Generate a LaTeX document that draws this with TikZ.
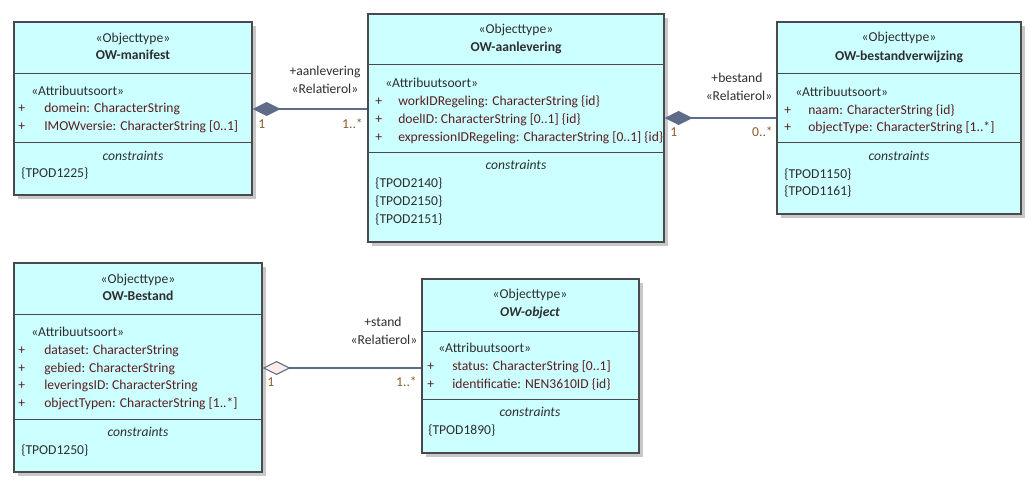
\documentclass[tikz,border=0pt]{standalone}
\usepackage{fontspec}
\setmainfont{Carlito}
\usepackage{tikz}
\usetikzlibrary{positioning, fit, arrows.meta}
\definecolor{UmlFill}{HTML}{CCFFFF}
\definecolor{UmlBorder}{HTML}{4A4A4A}
\definecolor{UmlShadow}{HTML}{C8C8C8}
\definecolor{UmlText}{HTML}{2E2E2E}
\definecolor{AttrText}{HTML}{5A1E1E}
\definecolor{AssocLine}{HTML}{5E6C8A}
\definecolor{MultText}{HTML}{8A5A2E}
\definecolor{OpenDiamond}{HTML}{FBEEEA}

% klasse: name, x1, y1, x2, y2, first separator, second separator
\newcommand{\umlklasse}[7]{%
  \fill[UmlShadow] (#2+4,#3+4) rectangle (#4+4,#5+4);
  \node[klasse, fit={(#2,#3) (#4,#5)}] (#1) {};
  \draw[UmlBorder] (#2,#6) -- (#4,#6);
  \draw[UmlBorder] (#2,#7) -- (#4,#7);
}

\begin{document}
\begin{tikzpicture}[x=0.75pt, y=-0.75pt, font=\fontsize{10.2}{12}\selectfont,
  klasse/.style={draw=UmlBorder, fill=UmlFill, inner sep=0pt, line width=0.8pt},
  txt/.style={inner sep=0pt, text height=7pt, text depth=2pt, text=UmlText},
  kop/.style={txt, font=\fontsize{10.2}{12}\selectfont\bfseries},
  attr/.style={txt, anchor=west, text=AttrText},
  tpod/.style={txt, anchor=west},
  cons/.style={txt, font=\fontsize{10.2}{12}\selectfont\itshape},
  rol/.style={txt},
  mult/.style={txt, text=MultText},
  assoc/.style={draw=AssocLine, line width=0.8pt},
  compo/.style={assoc, {Diamond[length=21pt, width=10.5pt, fill=AssocLine]}-},
  aggr/.style={assoc, {Diamond[open, length=21pt, width=10.5pt, fill=OpenDiamond]}-}]
  \useasboundingbox (0,0) rectangle (1035,489);

  % OW-manifest
  \umlklasse{man}{14}{22}{252}{195}{73}{142}
  \node[txt] (man-st) at (133,39) {«Objecttype»};
  \node[kop] (man-nm) at (133,56) {OW-manifest};
  \node[tpod] (man-as) at (31,92) {«Attribuutsoort»};
  \foreach \y/\t [count=\i] in {109/domein: CharacterString, 127/IMOWversie: CharacterString [0..1]}{
    \node[attr] (man-p\i) at (18,\y) {+};
    \node[attr] (man-a\i) at (44,\y) {\t};}
  \node[cons] (man-cs) at (133,157) {constraints};
  \node[tpod] (man-c1) at (21,174) {\{TPOD1225\}};

  % OW-aanlevering
  \umlklasse{aan}{368}{14}{664}{242}{64}{152}
  \node[txt] (aan-st) at (516,30) {«Objecttype»};
  \node[kop] (aan-nm) at (516,48) {OW-aanlevering};
  \node[tpod] (aan-as) at (385,84) {«Attribuutsoort»};
  \foreach \y/\t [count=\i] in {102/workIDRegeling: CharacterString \{id\},
      120/doelID: CharacterString [0..1] \{id\},
      138/expressionIDRegeling: CharacterString [0..1] \{id\}}{
    \node[attr] (aan-p\i) at (375,\y) {+};
    \node[attr] (aan-a\i) at (398,\y) {\t};}
  \node[cons] (aan-cs) at (516,166) {constraints};
  \foreach \y/\t [count=\i] in {184/2140, 202/2150, 220/2151}{
    \node[tpod] (aan-c\i) at (375,\y) {\{TPOD\t\}};}

  % OW-bestandverwijzing
  \umlklasse{bvw}{777}{22}{1021}{214}{73}{142}
  \node[txt] (bvw-st) at (899,38) {«Objecttype»};
  \node[kop] (bvw-nm) at (899,57) {OW-bestandverwijzing};
  \node[tpod] (bvw-as) at (795,93) {«Attribuutsoort»};
  \foreach \y/\t [count=\i] in {111/naam: CharacterString \{id\},
      128/objectType: CharacterString [1..*]}{
    \node[attr] (bvw-p\i) at (784,\y) {+};
    \node[attr] (bvw-a\i) at (808,\y) {\t};}
  \node[cons] (bvw-cs) at (899,157) {constraints};
  \foreach \y/\t [count=\i] in {175/1150, 192/1161}{
    \node[tpod] (bvw-c\i) at (784,\y) {\{TPOD\t\}};}

  % OW-Bestand
  \umlklasse{bst}{14}{263}{262}{472}{314}{419}
  \node[txt] (bst-st) at (138,280) {«Objecttype»};
  \node[kop] (bst-nm) at (138,297) {OW-Bestand};
  \node[tpod] (bst-as) at (31,333) {«Attribuutsoort»};
  \foreach \y/\t [count=\i] in {351/dataset: CharacterString, 369/gebied: CharacterString,
      386/leveringsID: CharacterString, 404/objectTypen: CharacterString [1..*]}{
    \node[attr] (bst-p\i) at (18,\y) {+};
    \node[attr] (bst-a\i) at (44,\y) {\t};}
  \node[cons] (bst-cs) at (138,433) {constraints};
  \node[tpod] (bst-c1) at (21,451) {\{TPOD1250\}};

  % OW-object
  \umlklasse{obj}{422}{279}{639}{453}{331}{399}
  \node[txt] (obj-st) at (530,295) {«Objecttype»};
  \node[kop, font=\fontsize{10.2}{12}\selectfont\bfseries\itshape] (obj-nm) at (530,313) {OW-object};
  \node[tpod] (obj-as) at (438,349) {«Attribuutsoort»};
  \foreach \y/\t [count=\i] in {367/status: CharacterString [0..1],
      385/identificatie: NEN3610ID \{id\}}{
    \node[attr] (obj-p\i) at (427,\y) {+};
    \node[attr] (obj-a\i) at (452,\y) {\t};}
  \node[cons] (obj-cs) at (530,413) {constraints};
  \node[tpod] (obj-c1) at (428,431) {\{TPOD1890\}};

  % associaties
  \coordinate (r1) at (0,109);
  \coordinate (r2) at (0,118);
  \coordinate (r3) at (0,368);
  \draw[compo] (man.east |- r1) -- (aan.west |- r1);
  \draw[compo] (aan.east |- r2) -- (bvw.west |- r2);
  \draw[aggr] (bst.east |- r3) -- (obj.west |- r3);

  \node[rol] (l1a) at (325,72) {+aanlevering};
  \node[rol] (l1b) at (325,90) {«Relatierol»};
  \node[mult, anchor=west] (m1a) at (258,125) {1};
  \node[mult, anchor=east] (m1b) at (363,125) {1..*};

  \node[rol] (l2a) at (737,79) {+bestand};
  \node[rol] (l2b) at (739,97) {«Relatierol»};
  \node[mult, anchor=west] (m2a) at (670,133) {1};
  \node[mult, anchor=east] (m2b) at (773,133) {0..*};

  \node[rol] (l3a) at (383,323) {+stand};
  \node[rol] (l3b) at (384,341) {«Relatierol»};
  \node[mult, anchor=west] (m3a) at (267,383) {1};
  \node[mult, anchor=east] (m3b) at (417,383) {1..*};
\end{tikzpicture}
\end{document}
